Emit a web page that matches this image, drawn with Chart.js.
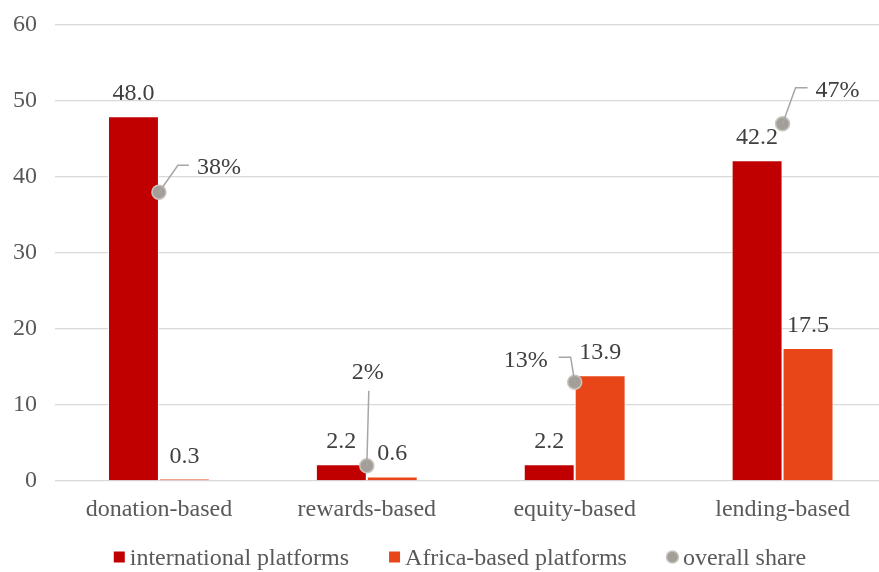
<!DOCTYPE html>
<html>
<head>
<meta charset="utf-8">
<script src="https://cdn.jsdelivr.net/npm/chart.js@4"></script>
<style>
  html, body { margin: 0; background: #fff; overflow: hidden; }
  #wrap { width: 895px; height: 572px; }
</style>
</head>
<body>
<div id="wrap"><canvas id="myChart" width="895" height="572"></canvas></div>
<script>
const categories = ['donation-based', 'rewards-based', 'equity-based', 'lending-based'];
const international = [48.0, 2.2, 2.2, 42.2];
const africa = [0.3, 0.6, 13.9, 17.5];
const overallShare = [38, 2, 13, 47];
const yTicks = [0, 10, 20, 30, 40, 50, 60];

// callout leader lines for the share labels: elbow offset, horizontal run, text side
const calloutOffsets = [
    { dx: 19, dy: -27, run: 11, side: 'right' },
    { dx: 2, dy: -75, run: 0, side: 'up' },
    { dx: -4, dy: -25, run: -12, side: 'left' },
    { dx: 13, dy: -36, run: 12, side: 'right' }
];

const FONT = "'Liberation Serif', 'Times New Roman', serif";
const labelColor = '#404040';
const tickColor = '#595959';
const shareFill = '#a39e97';
const shareEdge = '#c9c6c1';

const barLabels = {
    id: 'barLabels',
    afterDatasetsDraw(chart) {
        const ctx = chart.ctx;
        ctx.save();
        ctx.font = '24px ' + FONT;
        ctx.fillStyle = labelColor;
        ctx.textAlign = 'center';
        ctx.textBaseline = 'alphabetic';
        [0, 1].forEach(di => {
            const meta = chart.getDatasetMeta(di);
            meta.data.forEach((bar, i) => {
                const v = chart.data.datasets[di].data[i];
                ctx.fillText(v.toFixed(1), bar.x, bar.y - 16);
            });
        });

        // callouts for overall share
        const meta = chart.getDatasetMeta(2);
        ctx.strokeStyle = '#a6a6a6';
        ctx.lineWidth = 1.5;
        meta.data.forEach((pt, i) => {
            const o = calloutOffsets[i];
            const ex = pt.x + o.dx, ey = pt.y + o.dy;
            ctx.beginPath();
            ctx.moveTo(pt.x, pt.y);
            ctx.lineTo(ex, ey);
            ctx.lineTo(ex + o.run, ey);
            ctx.stroke();
            const txt = overallShare[i] + '%';
            ctx.textBaseline = 'alphabetic';
            if (o.side === 'right') {
                ctx.textAlign = 'left';
                ctx.fillText(txt, ex + o.run + 8, ey + 9);
            } else if (o.side === 'left') {
                ctx.textAlign = 'right';
                ctx.fillText(txt, ex + o.run - 11, ey + 10);
            } else {
                ctx.textAlign = 'center';
                ctx.fillText(txt, ex - 1, ey - 12);
            }
        });
        ctx.restore();
    },
    afterDraw(chart) {
        // legend row under the axis
        const ctx = chart.ctx;
        ctx.save();
        ctx.font = '24px ' + FONT;
        ctx.textBaseline = 'alphabetic';
        ctx.textAlign = 'left';
        const items = chart.data.datasets.map((ds, i) => ({
            text: ds.label,
            circle: i === 2,
            color: i === 2 ? shareFill : ds.backgroundColor,
            w: ctx.measureText(ds.label).width
        }));
        const marker = 11, gap = 5, itemGap = 40;
        const total = items.reduce((s, it) => s + marker + gap + it.w, 0) + itemGap * (items.length - 1);
        let x = 460 - total / 2;
        const cy = 557;
        items.forEach(it => {
            if (it.circle) {
                ctx.beginPath();
                ctx.arc(x + marker / 2, cy, 6, 0, Math.PI * 2);
                ctx.fillStyle = it.color;
                ctx.fill();
                ctx.strokeStyle = shareEdge;
                ctx.lineWidth = 1.5;
                ctx.stroke();
            } else {
                ctx.fillStyle = it.color;
                ctx.fillRect(x, cy - marker / 2, marker, marker);
            }
            ctx.fillStyle = tickColor;
            ctx.fillText(it.text, x + marker + gap, cy + 8);
            x += marker + gap + it.w + itemGap;
        });
        ctx.restore();
    }
};

const ctx = document.getElementById('myChart').getContext('2d');
new Chart(ctx, {
    type: 'bar',
    data: {
        labels: categories,
        datasets: [{
            label: 'international platforms',
            data: international,
            backgroundColor: '#c00000',
            borderColor: '#ffffff',
            borderWidth: 1,
            order: 2
        }, {
            label: 'Africa-based platforms',
            data: africa,
            backgroundColor: '#e84619',
            borderColor: '#ffffff',
            borderWidth: 1,
            order: 2
        }, {
            type: 'line',
            label: 'overall share',
            data: overallShare,
            showLine: false,
            pointStyle: 'circle',
            pointRadius: 7,
            pointHoverRadius: 7,
            pointBackgroundColor: shareFill,
            pointBorderColor: shareEdge,
            pointBorderWidth: 1.5,
            backgroundColor: shareFill,
            borderColor: shareEdge,
            order: 1
        }]
    },
    options: {
        responsive: false,
        animation: false,
        layout: { padding: { left: 0, right: 0, top: 25, bottom: 0 } },
        datasets: {
            bar: { categoryPercentage: 0.49, barPercentage: 1 }
        },
        scales: {
            x: {
                grid: { display: false },
                border: { display: false },
                afterFit: axis => {
                    axis.height = 91;
                    axis.paddingLeft = 0;
                    axis.paddingRight = 0;
                },
                ticks: { color: tickColor, font: { family: FONT, size: 24 }, padding: 6 }
            },
            y: {
                min: 0,
                max: 60,
                afterBuildTicks: axis => { axis.ticks = yTicks.map(v => ({ value: v })); },
                afterFit: axis => {
                    axis.width = 55;
                    axis.paddingTop = 0;
                    axis.paddingBottom = 0;
                },
                grid: { color: '#d9d9d9', lineWidth: 1.3, drawTicks: false },
                border: { display: false },
                ticks: { color: tickColor, font: { family: FONT, size: 24 }, padding: 18 }
            }
        },
        plugins: {
            legend: { display: false },
            tooltip: { enabled: false }
        }
    },
    plugins: [barLabels]
});
</script>
</body>
</html>
